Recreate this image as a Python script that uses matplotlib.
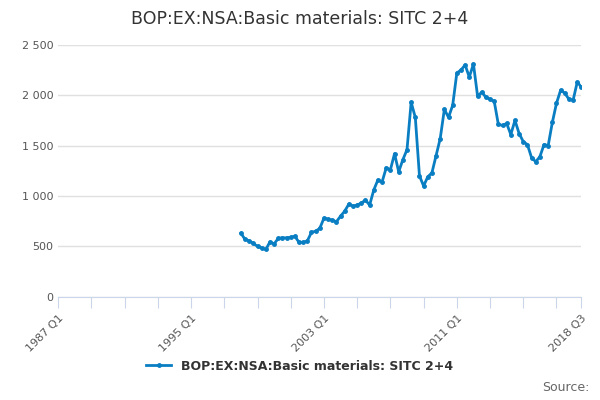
import matplotlib.pyplot as plt

values = [630, 570, 555, 530, 500, 485, 470, 545, 525, 580,
          585, 585, 590, 600, 540, 540, 555, 640, 650, 680,
          780, 770, 760, 745, 800, 850, 920, 900, 910, 930,
          960, 910, 1060, 1160, 1140, 1280, 1260, 1420, 1240, 1360,
          1460, 1930, 1780, 1200, 1100, 1190, 1230, 1400, 1570, 1860,
          1780, 1900, 2220, 2250, 2300, 2180, 2310, 1990, 2030, 1980,
          1960, 1940, 1710, 1700, 1720, 1610, 1750, 1620, 1540, 1510,
          1380, 1340, 1390, 1510, 1500, 1730, 1920, 2050, 2020, 1960,
          1950, 2130, 2080]
start = 44  # 1998 Q1, quarters since 1987 Q1
x = list(range(start, start + len(values)))
tick_pos = list(range(0, 127, 8)) + [126]
tick_lab = {0: '1987 Q1', 32: '1995 Q1', 64: '2003 Q1', 96: '2011 Q1', 126: '2018 Q3'}
yticks = [0, 500, 1000, 1500, 2000, 2500]
ylabels = ['0', '500', '1 000', '1 500', '2 000', '2 500']

fig = plt.figure(figsize=(6, 4), dpi=100)
ax = fig.add_axes([0.097, 0.258, 0.872, 0.63])
ax.plot(x, values, color='#0a7ec2', lw=2, marker='o', ms=2.5, label='BOP:EX:NSA:Basic materials: SITC 2+4')
ax.set_xlim(0, 126)
ax.set_ylim(0, 2500)
ax.set_yticks(yticks)
ax.set_yticklabels(ylabels, color='#555555', fontsize=8)
ax.set_xticks(tick_pos)
ax.set_xticklabels([tick_lab.get(t, '') for t in tick_pos], rotation=45, ha='right',
                   rotation_mode='anchor', color='#555555', fontsize=8)
ax.grid(axis='y', color='#e0e0e0', lw=1)
ax.set_axisbelow(True)
for s in ['top', 'right', 'left']:
    ax.spines[s].set_visible(False)
ax.spines['bottom'].set_color('#ccd6eb')
ax.tick_params(axis='y', length=0)
ax.tick_params(axis='x', color='#ccd6eb', length=8)
fig.suptitle('BOP:EX:NSA:Basic materials: SITC 2+4', y=0.975, fontsize=12.5, color='#333333')
fig.legend(loc='lower center', bbox_to_anchor=(0.5, 0.04), frameon=False,
           prop={'size': 9, 'weight': 'bold'}, labelcolor='#333333', handlelength=2)
fig.text(0.982, 0.015, 'Source:', ha='right', va='bottom', fontsize=9, color='#666666')
fig.savefig('out.png')
